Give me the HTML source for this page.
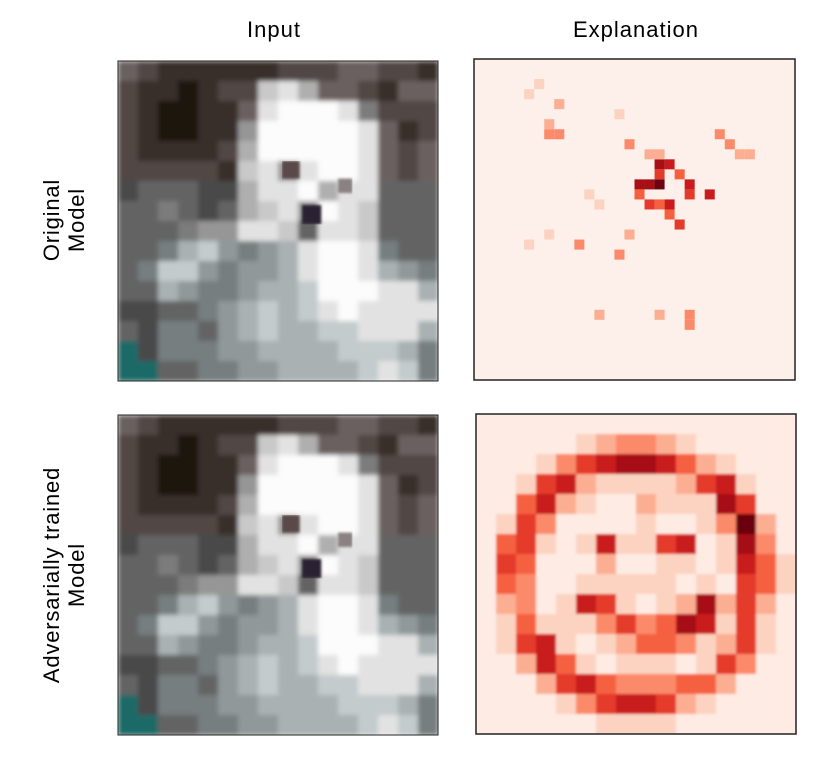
<!DOCTYPE html>
<html><head><meta charset="utf-8"><style>
html,body{margin:0;padding:0;background:#fff;width:830px;height:767px;overflow:hidden}
.t{position:absolute;font-family:"Liberation Sans",sans-serif;font-size:22px;letter-spacing:1px;color:#000;white-space:nowrap}
.r{position:absolute;font-family:"Liberation Sans",sans-serif;font-size:22px;letter-spacing:0.8px;line-height:25px;text-align:center;transform:translate(-50%,-50%) rotate(-90deg);white-space:nowrap}
svg{position:absolute;left:0;top:0}
</style></head><body>
<div class="t" style="left:247px;top:17px">Input</div>
<div class="t" style="left:573px;top:17px">Explanation</div>
<div class="r" style="left:64px;top:220px">Original<br>Model</div>
<div class="r" style="left:64px;top:575px">Adversarially trained<br>Model</div>
<svg id="fig" width="830" height="767">
<defs>
<filter id="soft" x="0" y="0" width="1" height="1"><feGaussianBlur stdDeviation="2.5" edgeMode="duplicate"/></filter>
<filter id="soft2" x="0" y="0" width="1" height="1"><feGaussianBlur stdDeviation="1.2" edgeMode="duplicate"/></filter>
</defs>
</svg>
<script>
// dog input image, coarse 16x16 brightness (0-9), 't' = teal
const dogRows = [
"3211111122233221",
"2110122786332133",
"2100113899984222",
"2100115999998312",
"2111126999998323",
"2222217858998323",
"2333226889688333",
"3343236785987333",
"3334558873887333",
"3346754568998433",
"3477545568998654",
"3365445667999886",
"2233456767898888",
"3244356766778886",
"t244455666677764",
"tt33445566667874"];
// smiley explanation (adversarial model), coarse 16x16 intensity 0-9
const smileRows = [
"1111111111111111",
"1111123443211111",
"1112467887532111",
"1126732222367211",
"1157321132228611",
"1264111121124931",
"1562127226712841",
"1651113112212752",
"1541122222121652",
"1341276212383631",
"1252224645872621",
"1267212355423621",
"1137521222126411",
"1113675444553111",
"1111246776321111",
"1111112222111111"];
// original model explanation: sparse hot spots on 32x32 grid
const spotRow = [12,12,12,10,10,11,12,13,13,13,14,14,14,15,16,11,7,7,6,4,8,7,8,9,9,18,19,17,25,25,26,25,9,9,5,3,2,13,14,17,18];
const spotCol = [16,17,18,18,19,18,21,23,21,16,17,18,19,19,20,20,7,8,7,8,15,24,25,26,27,10,14,15,18,21,21,12,17,18,14,5,6,11,12,7,5];
const spotVal = [8,8,9,8,7,6,7,7,6,5,6,5,7,5,6,5,4,4,3,3,4,4,4,3,3,4,4,3,3,4,4,3,3,3,2,2,2,2,2,2,2];

const reds=["#fff3ee","#feebe3","#fcd3c1","#fcae93","#fb8a6a","#f5603f","#e43a2c","#c91a1e","#a60f15","#6b0410"];
const NS="http://www.w3.org/2000/svg";
const svg=document.getElementById('fig');
function el(tag,attrs,parent){const e=document.createElementNS(NS,tag);for(const k in attrs)e.setAttribute(k,attrs[k]);(parent||svg).appendChild(e);return e;}
function dogColor(ch,r){
  if(ch==='t')return "#1a6a68";
  const v=+ch;const g=Math.round(22+v*25.5);
  if(r<6&&v<=3)return `rgb(${g+8},${g-2},${g-5})`;
  if(r>=9&&v>=4&&v<=7)return `rgb(${g-6},${g+2},${g+4})`;
  return `rgb(${g},${g},${g})`;
}
function drawDog(x0,y0,w,name){
  const outer=el('g',{});
  
  
  const g=el('g',{filter:'url(#soft)'},outer);
  const n=dogRows.length,cs=w/n;
  dogRows.forEach((row,r)=>{[...row].forEach((ch,c)=>{
    const rc=el('rect',{x:x0+c*cs,y:y0+r*cs,width:cs+0.5,height:cs+0.5,fill:dogColor(ch,r)},g);
    
    
  });});
  const g2=el('g',{filter:'url(#soft2)'},outer);
  [[0.54,0.34,0.055,"#5a4a4a"],[0.71,0.39,0.045,"#8a8280"],[0.605,0.48,0.06,"#2a2230"]].forEach(e=>{
    const rc=el('rect',{x:x0+e[0]*w-e[2]*w/2,y:y0+e[1]*w-e[2]*w/2,width:e[2]*w,height:e[2]*w,fill:e[3]},g2);
    
    
  });
  el('rect',{x:x0,y:y0,width:w,height:w,fill:"none",stroke:"#222","stroke-width":1},outer);
}
function drawHeat(x0,y0,w,rows,name){
  const outer=el('g',{});
  
  
  const g=el('g',{filter:'url(#soft2)'},outer);
  const n=rows.length,cs=w/n;
  rows.forEach((row,r)=>{[...row].forEach((ch,c)=>{
    const rc=el('rect',{x:x0+c*cs,y:y0+r*cs,width:cs+0.5,height:cs+0.5,fill:reds[+ch]},g);
    
    
  });});
  el('rect',{x:x0,y:y0,width:w,height:w,fill:"none",stroke:"#222","stroke-width":1.5},outer);
}
function drawSparse(x0,y0,w,name){
  const g=el('g',{});
  
  
  el('rect',{x:x0,y:y0,width:w,height:w,fill:"#fdefe9"},g);
  const cs=w/32;
  spotRow.forEach((r,i)=>{
    const rc=el('rect',{x:x0+spotCol[i]*cs,y:y0+r*cs,width:cs,height:cs,fill:reds[spotVal[i]]},g);
    
    
  });
  el('rect',{x:x0,y:y0,width:w,height:w,fill:"none",stroke:"#222","stroke-width":1.5},g);
}
drawDog(118,61,320,'input-image-original');
drawDog(118,415,320,'input-image-adversarial');
drawSparse(474,59,321,'explanation-original');
drawHeat(476,414,320,smileRows,'explanation-adversarial');
</script>
</body></html>
